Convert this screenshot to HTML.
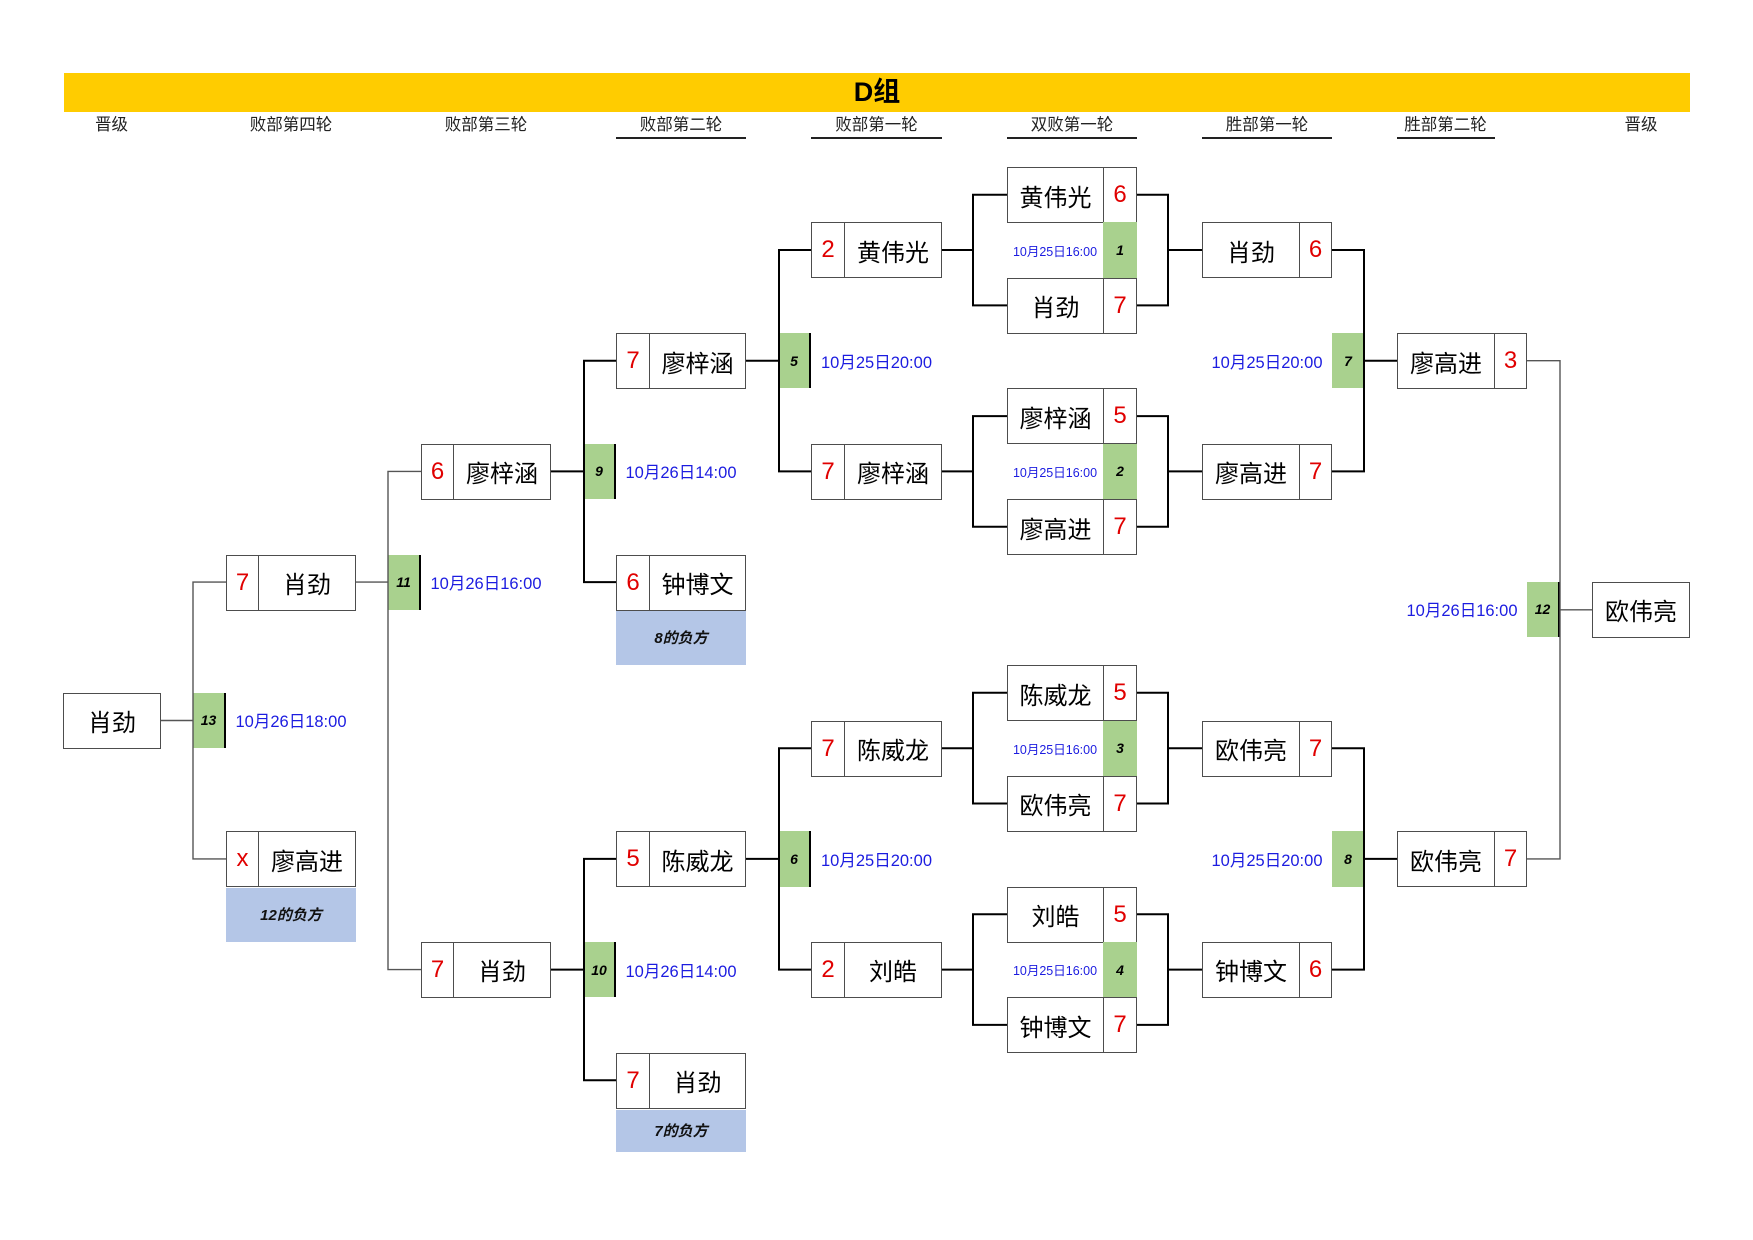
<!DOCTYPE html>
<html><head><meta charset="utf-8">
<style>
*{margin:0;padding:0}
html,body{width:1753px;height:1240px;background:#fff;overflow:hidden}
body{position:relative;font-family:"Liberation Sans","Noto Sans CJK SC",sans-serif}
.a{position:absolute;box-sizing:border-box}
.c{position:absolute;box-sizing:border-box;border:1px solid #4d4d4d;background:#fff;height:56px;display:flex;align-items:center;justify-content:center;white-space:nowrap}
.n{font-size:24px;color:#000}
.s{font-size:24px;color:#e00000}
.g{position:absolute;box-sizing:border-box;background:#a9d18e;height:55.4px;display:flex;align-items:center;justify-content:center;font-weight:bold;font-style:italic;font-size:14px;color:#000}
.gl{border-right:2px solid #000}
.dt{position:absolute;height:55.4px;display:flex;align-items:center;justify-content:center;color:#1c1ce0;font-size:16.5px;white-space:nowrap}
.dts{font-size:12.5px}
.bl{position:absolute;background:#b4c6e7;display:flex;align-items:center;justify-content:center;font-weight:bold;font-style:italic;font-size:15px;color:#111}
.h{position:absolute;top:115px;height:20px;line-height:20px;text-align:center;font-size:16.5px;color:#222;white-space:nowrap}
.u{position:absolute;top:137px;height:2px;background:#222}
.r0{top:167px}.r1{top:222.4px}.r2{top:277.7px}.r3{top:333.1px}.r4{top:388.4px}.r5{top:443.8px}.r6{top:499.1px}.r7{top:554.5px}.r8{top:609.8px}.r9{top:665.2px}.r10{top:720.5px}.r11{top:775.9px}.r12{top:831.2px}.r13{top:886.6px}.r14{top:941.9px}.r15{top:997.3px}.r16{top:1052.6px}.r17{top:1108px}
.k4s{left:226px;width:33px}.k4n{left:258px;width:98px}
.k3s{left:421px;width:33px}.k3n{left:453px;width:98px}
.k2s{left:616px;width:34px}.k2n{left:649px;width:97px}
.k1s{left:811px;width:34px}.k1n{left:844px;width:98px}
.dn{left:1007px;width:97px}.ds{left:1103px;width:34px}
.w1n{left:1202px;width:98px}.w1s{left:1299px;width:33px}
.w2n{left:1397px;width:98px}.w2s{left:1494px;width:33px}
</style></head><body>

<!-- title bar -->
<div class="a" style="left:64px;top:73px;width:1626px;height:39px;background:#ffcc00;text-align:center;line-height:39px;font-size:27px;font-weight:bold;color:#000">D组</div>

<!-- headings -->
<div class="h" style="left:63px;width:97px">晋级</div>
<div class="h" style="left:226px;width:130px">败部第四轮</div>
<div class="h" style="left:421px;width:130px">败部第三轮</div>
<div class="h" style="left:616px;width:130px">败部第二轮</div>
<div class="u" style="left:616px;width:130px"></div>
<div class="h" style="left:811px;width:131px">败部第一轮</div>
<div class="u" style="left:811px;width:131px"></div>
<div class="h" style="left:1007px;width:130px">双败第一轮</div>
<div class="u" style="left:1007px;width:130px"></div>
<div class="h" style="left:1202px;width:130px">胜部第一轮</div>
<div class="u" style="left:1202px;width:130px"></div>
<div class="h" style="left:1397px;width:97px">胜部第二轮</div>
<div class="u" style="left:1397px;width:98px"></div>
<div class="h" style="left:1592px;width:98px">晋级</div>

<!-- left 晋级 -->
<div class="c n" style="left:63px;top:692.8px;width:98px">肖劲</div>
<div class="g gl" style="left:193px;top:692.8px;width:33px">13</div>
<div class="dt" style="left:226px;top:692.8px;width:130px">10月26日18:00</div>

<!-- 败部第四轮 -->
<div class="c s k4s r7">7</div><div class="c n k4n r7">肖劲</div>
<div class="c s k4s r12">x</div><div class="c n k4n r12">廖高进</div>
<div class="bl" style="left:226px;top:887.6px;width:130px;height:54px">12的负方</div>

<div class="g gl r7" style="left:388px;width:33px">11</div>
<div class="dt r7" style="left:421px;width:130px">10月26日16:00</div>

<!-- 败部第三轮 -->
<div class="c s k3s r5">6</div><div class="c n k3n r5">廖梓涵</div>
<div class="c s k3s r14">7</div><div class="c n k3n r14">肖劲</div>

<div class="g gl r5" style="left:584px;width:32px">9</div>
<div class="dt r5" style="left:616px;width:130px">10月26日14:00</div>
<div class="g gl r14" style="left:584px;width:32px">10</div>
<div class="dt r14" style="left:616px;width:130px">10月26日14:00</div>

<!-- 败部第二轮 -->
<div class="c s k2s r3">7</div><div class="c n k2n r3">廖梓涵</div>
<div class="c s k2s r7">6</div><div class="c n k2n r7">钟博文</div>
<div class="bl" style="left:616px;top:610.8px;width:130px;height:54px">8的负方</div>
<div class="c s k2s r12">5</div><div class="c n k2n r12">陈威龙</div>
<div class="c s k2s r16">7</div><div class="c n k2n r16">肖劲</div>
<div class="bl" style="left:616px;top:1109.5px;width:130px;height:42px">7的负方</div>

<div class="g gl r3" style="left:779px;width:32px">5</div>
<div class="dt r3" style="left:811px;width:131px">10月25日20:00</div>
<div class="g gl r12" style="left:779px;width:32px">6</div>
<div class="dt r12" style="left:811px;width:131px">10月25日20:00</div>

<!-- 败部第一轮 -->
<div class="c s k1s r1">2</div><div class="c n k1n r1">黄伟光</div>
<div class="c s k1s r5">7</div><div class="c n k1n r5">廖梓涵</div>
<div class="c s k1s r10">7</div><div class="c n k1n r10">陈威龙</div>
<div class="c s k1s r14">2</div><div class="c n k1n r14">刘皓</div>

<!-- 双败第一轮 -->
<div class="c n dn r0">黄伟光</div><div class="c s ds r0">6</div>
<div class="g ds r1">1</div><div class="dt dts r1" style="left:1007px;width:96px">10月25日16:00</div>
<div class="c n dn r2">肖劲</div><div class="c s ds r2">7</div>

<div class="c n dn r4">廖梓涵</div><div class="c s ds r4">5</div>
<div class="g ds r5">2</div><div class="dt dts r5" style="left:1007px;width:96px">10月25日16:00</div>
<div class="c n dn r6">廖高进</div><div class="c s ds r6">7</div>

<div class="c n dn r9">陈威龙</div><div class="c s ds r9">5</div>
<div class="g ds r10">3</div><div class="dt dts r10" style="left:1007px;width:96px">10月25日16:00</div>
<div class="c n dn r11">欧伟亮</div><div class="c s ds r11">7</div>

<div class="c n dn r13">刘皓</div><div class="c s ds r13">5</div>
<div class="g ds r14">4</div><div class="dt dts r14" style="left:1007px;width:96px">10月25日16:00</div>
<div class="c n dn r15">钟博文</div><div class="c s ds r15">7</div>

<!-- 胜部第一轮 -->
<div class="c n w1n r1">肖劲</div><div class="c s w1s r1">6</div>
<div class="c n w1n r5">廖高进</div><div class="c s w1s r5">7</div>
<div class="c n w1n r10">欧伟亮</div><div class="c s w1s r10">7</div>
<div class="c n w1n r14">钟博文</div><div class="c s w1s r14">6</div>

<div class="g r3" style="left:1332px;width:32px">7</div>
<div class="dt r3" style="left:1202px;width:130px">10月25日20:00</div>
<div class="g r12" style="left:1332px;width:32px">8</div>
<div class="dt r12" style="left:1202px;width:130px">10月25日20:00</div>

<!-- 胜部第二轮 -->
<div class="c n w2n r3">廖高进</div><div class="c s w2s r3">3</div>
<div class="c n w2n r12">欧伟亮</div><div class="c s w2s r12">7</div>

<div class="g gl" style="left:1527px;top:581.8px;width:33px">12</div>
<div class="dt" style="left:1397px;top:581.8px;width:130px">10月26日16:00</div>

<!-- right 晋级 -->
<div class="c n" style="left:1592px;top:581.8px;width:98px">欧伟亮</div>

<!-- connectors -->
<svg class="a" style="left:0;top:0" width="1753" height="1240" viewBox="0 0 1753 1240">
<path fill="none" stroke="#000" stroke-width="2" d="
M942 250H973 M1007 194.7H973V305.4H1007
M942 471.4H973 M1007 416.1H973V526.8H1007
M942 748.2H973 M1007 692.8H973V803.5H1007
M942 969.6H973 M1007 914.2H973V1024.9H1007
M1137 194.7H1168V305.4H1137 M1168 250H1202
M1137 416.1H1168V526.8H1137 M1168 471.4H1202
M1137 692.8H1168V803.5H1137 M1168 748.2H1202
M1137 914.2H1168V1024.9H1137 M1168 969.6H1202
M811 250H779V471.4H811 M746 360.7H779
M811 748.2H779V969.6H811 M746 858.9H779
M616 360.7H584V582.1H616 M551 471.4H584
M616 858.9H584V1080.3H616 M551 969.6H584
M1332 250H1364V471.4H1332 M1364 360.7H1397
M1332 748.2H1364V969.6H1332 M1364 858.9H1397
"/>
<path fill="none" stroke="#555" stroke-width="1.4" d="
M421 471.4H388V969.6H421 M356 582.1H388
M226 582.1H193V858.9H226 M161 720.5H193
M1527 360.7H1560V858.9H1527 M1560 609.8H1592
"/>
</svg>

</body></html>
